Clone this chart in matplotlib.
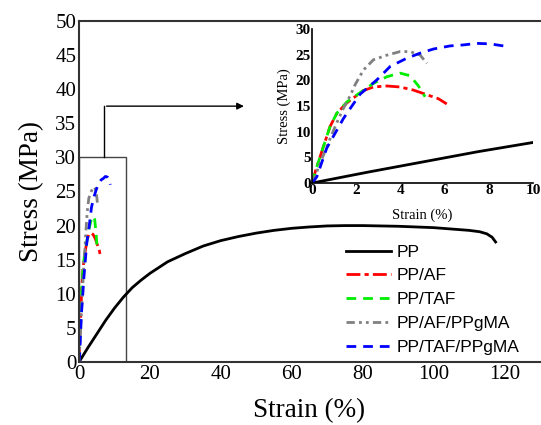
import matplotlib
matplotlib.use("Agg")
import matplotlib.pyplot as plt
from matplotlib.patches import Rectangle

# ---- data ----
pp_x = [0, 2.5, 5, 7.5, 10, 12.5, 15, 17.5, 20, 25, 30, 35, 40, 45, 50, 55, 60, 65, 70,
        75, 80, 85, 90, 95, 100, 105, 110, 113, 115, 116.5, 117.5]
pp_y = [0, 2.1, 4.1, 6.1, 7.9, 9.5, 10.9, 12.0, 13.0, 14.7, 15.9, 17.0, 17.8, 18.4, 18.9,
        19.3, 19.6, 19.8, 19.95, 20.0, 20.0, 19.95, 19.9, 19.8, 19.7, 19.5, 19.3, 19.1,
        18.8, 18.3, 17.6]

af_x = [0, 0.14, 0.51, 0.81, 1.12, 1.57, 1.72, 2.32, 2.77, 3.38, 3.98, 4.58, 5.19, 5.72, 6.09]
af_y = [0, 2.2, 7.1, 11.0, 13.6, 15.6, 16.1, 18.0, 18.7, 18.9, 18.7, 18.1, 17.2, 16.4, 15.4]

taf_x = [0, 0.14, 0.51, 0.81, 1.12, 1.57, 2.17, 2.77, 3.38, 3.98, 4.43, 4.81, 5.11]
taf_y = [0, 2.2, 7.1, 11.0, 13.6, 15.8, 17.6, 19.4, 20.7, 21.4, 20.9, 18.9, 16.8]

afg_x = [0, 0.25, 0.7, 1.1, 1.42, 1.72, 1.95, 2.32, 2.77, 3.38, 3.98, 4.43, 4.89, 5.19]
afg_y = [0, 2.6, 7.5, 11.6, 14.6, 17.0, 19.2, 22.0, 24.0, 24.9, 25.6, 25.6, 24.9, 23.3]

tafg_x = [0, 0.21, 0.66, 1.04, 1.42, 1.8, 2.17, 2.93, 3.53, 4.28, 4.89, 5.49, 6.24, 6.85,
          7.45, 8.05, 8.66, 8.84]
tafg_y = [0, 1.2, 6.8, 9.7, 12.6, 15.0, 17.3, 20.1, 22.7, 24.3, 25.3, 26.1, 26.7, 26.9,
          27.2, 27.1, 26.7, 26.0]

labels = ["PP", "PP/AF", "PP/TAF", "PP/AF/PPgMA", "PP/TAF/PPgMA"]
main_xticks = [0, 20, 40, 60, 80, 100, 120]
main_yticks = [0, 5, 10, 15, 20, 25, 30, 35, 40, 45, 50]
inset_xticks = [0, 2, 4, 6, 8, 10]
inset_yticks = [0, 5, 10, 15, 20, 25, 30]

series = [
    (pp_x, pp_y, "black", "-"),
    (af_x, af_y, "#ff0000", (0, (5, 1.5, 1.5, 1.5))),
    (taf_x, taf_y, "#00ee00", (0, (3.5, 2.5))),
    (afg_x, afg_y, "#808080", (0, (3, 1.5, 1, 1.5, 1, 1.5))),
    (tafg_x, tafg_y, "#0000ff", (0, (3.5, 2.5))),
]

serif = "Liberation Serif"
sans = "Liberation Sans"

fig = plt.figure(figsize=(5.41, 4.25), dpi=100)
ax = fig.add_axes([0.146, 0.148, 0.852, 0.803])

for (x, y, c, ls), lab in zip(series, labels):
    ax.plot(x, y, color=c, linestyle=ls, linewidth=2, label=lab)

ax.set_xlim(0, 130)
ax.set_ylim(0, 50)
ax.set_xticks(main_xticks)
ax.set_yticks(main_yticks)
ax.tick_params(length=0, pad=2)
for t in ax.get_xticklabels() + ax.get_yticklabels():
    t.set_fontfamily(serif)
    t.set_fontsize(15)
ax.spines["right"].set_visible(False)
for s in ["left", "bottom", "top"]:
    ax.spines[s].set_color("#333333")
    ax.spines[s].set_linewidth(1.5)
ax.set_xlabel("Strain (%)", fontfamily=serif, fontsize=19.5, labelpad=10)
ax.set_ylabel("Stress (MPa)", fontfamily=serif, fontsize=19.5, labelpad=8)

# zoom rectangle and connector arrow
ax.add_patch(Rectangle((0, 0), 13.4, 30, fill=False, edgecolor="#444444", linewidth=1.0, zorder=1))
ax.plot([7, 7], [30, 37.5], color="black", linewidth=1.0)
ax.annotate("", xy=(47.3, 37.5), xytext=(7, 37.5),
            arrowprops=dict(arrowstyle="-|>", color="black", lw=1.0, mutation_scale=10))

leg = ax.legend(loc="upper left", bbox_to_anchor=(0.565, 0.365), frameon=False,
                prop={"family": sans, "size": 12.5}, handlelength=2.6,
                labelspacing=0.5, handletextpad=0.3, borderaxespad=0)

# inset
ins = fig.add_axes([0.577, 0.5694, 0.4085, 0.3624])
for x, y, c, ls in series:
    ins.plot(x, y, color=c, linestyle=ls, linewidth=2)
ins.set_xlim(0, 10)
ins.set_ylim(0, 30)
ins.set_xticks(inset_xticks)
ins.set_yticks(inset_yticks)
ins.tick_params(length=0, pad=1)
for t in ins.get_xticklabels() + ins.get_yticklabels():
    t.set_fontfamily(serif)
    t.set_fontweight("bold")
    t.set_fontsize(11)
ins.spines["right"].set_visible(False)
ins.spines["top"].set_visible(False)
for s in ["left", "bottom"]:
    ins.spines[s].set_linewidth(1.2)
ins.patch.set_alpha(0)
ins.set_xlabel("Strain (%)", fontfamily=serif, fontsize=10.5, labelpad=8)
ins.set_ylabel("Stress (MPa)", fontfamily=serif, fontsize=10.5, labelpad=3)

fig.savefig("out.png", dpi=100)
